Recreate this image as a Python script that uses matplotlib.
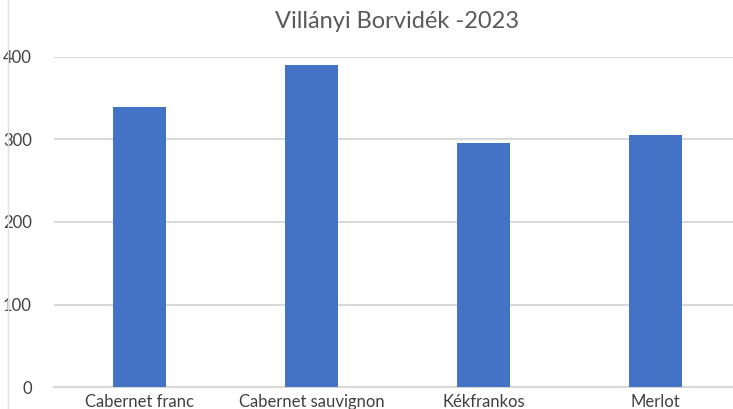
import matplotlib.pyplot as plt
from matplotlib.lines import Line2D

categories = ["Cabernet franc", "Cabernet sauvignon", "Kékfrankos", "Merlot"]
values = [339, 390, 296, 306]
yticks = [0, 100, 200, 300, 400]

plt.rcParams["font.family"] = ["Lato", "DejaVu Sans"]

fig = plt.figure(figsize=(7.33, 4.09), dpi=100)
ax = fig.add_axes([54 / 733, 1 - 387 / 409, (741 - 54) / 733, (387 - 57) / 409])

ax.bar(range(len(categories)), values, width=0.31, color="#4472C4", zorder=3)

ax.set_xlim(-0.5, 3.5)
ax.set_ylim(0, 400)
ax.set_yticks(yticks)
ax.set_xticks(range(len(categories)))
ax.set_xticklabels(categories)
ax.grid(axis="y", color="#d9d9d9", linewidth=1.5, zorder=0)
for side in ["top", "right", "left"]:
    ax.spines[side].set_visible(False)
ax.spines["bottom"].set_color("#d9d9d9")
ax.spines["bottom"].set_linewidth(1.5)
ax.tick_params(axis="both", length=0, labelsize=12, colors="#404040")
ax.tick_params(axis="y", pad=16)
ax.tick_params(axis="x", pad=5)

fig.text(397 / 733, 1 - 22 / 409, "Villányi Borvidék -2023", ha="center", va="center",
         fontsize=17, color="#595959")

# chart border on the left
fig.add_artist(Line2D([8 / 733, 8 / 733], [0, 1], color="#e0e0e0", linewidth=1,
                      transform=fig.transFigure))

fig.savefig("out.png", dpi=100)
